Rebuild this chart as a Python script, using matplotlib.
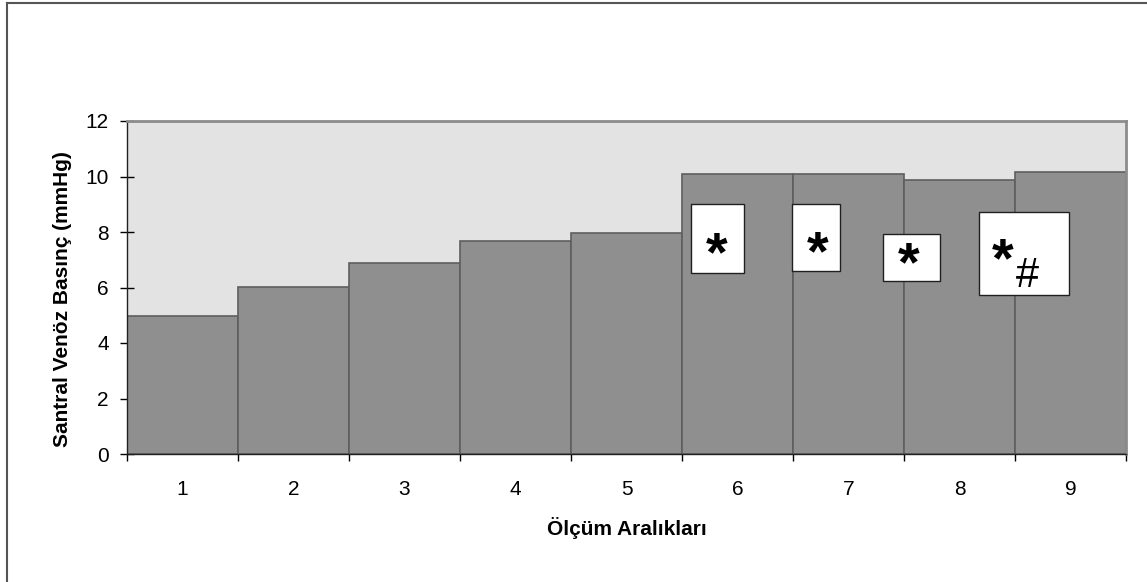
import matplotlib
matplotlib.use('Agg')
import matplotlib.pyplot as plt
from matplotlib.patches import Rectangle
from matplotlib.lines import Line2D
import numpy as np

plt.rcParams['font.family'] = ['Liberation Sans', 'DejaVu Sans']

# ── Data ──
categories = ['1', '2', '3', '4', '5', '6', '7', '8', '9']
cvp_values = [4.97, 6.03, 6.89, 7.66, 7.95, 10.08, 10.08, 9.86, 10.15]
y_ticks = [0, 2, 4, 6, 8, 10, 12]

# significance boxes: (x0, x1, y0, y1) in data coords, star position
marks = [
    (5.58, 6.06, 6.52, 9.01, (5.81, 7.14)),
    (6.49, 6.92, 6.59, 9.01, (6.72, 7.17)),
    (7.31, 7.82, 6.23, 7.93, (7.54, 6.78)),
    (8.18, 8.99, 5.73, 8.72, (8.39, 6.92)),
]

fig = plt.figure(figsize=(11.47, 5.82), dpi=100)
ax = fig.add_axes([127 / 1147, 128 / 582, 999 / 1147, 333 / 582])

x = np.arange(1, len(categories) + 1)
ax.bar(x, cvp_values, width=1.0, color='#8f8f8f', edgecolor='#5e5e5e',
       linewidth=1.2, zorder=2)

ax.set_facecolor('#e3e3e3')
ax.set_xlim(0.5, 9.5)
ax.set_ylim(0, 12)

ax.set_yticks(y_ticks)
ax.set_yticklabels([str(t) for t in y_ticks], fontsize=15)
ax.tick_params(axis='y', direction='inout', length=10, width=1, pad=8)

ax.set_xticks(x)
ax.set_xticklabels(categories, fontsize=15)
ax.tick_params(axis='x', which='major', length=0, pad=19)
ax.set_xticks(np.arange(0.5, 9.6, 1.0), minor=True)
ax.tick_params(axis='x', which='minor', direction='out', length=5, width=1)

for s in ['top', 'right']:
    ax.spines[s].set_color('#8c8c8c')
    ax.spines[s].set_linewidth(2)
for s in ['left', 'bottom']:
    ax.spines[s].set_color('#202020')
    ax.spines[s].set_linewidth(1)

ax.set_ylabel('Santral Venöz Basınç (mmHg)', fontsize=15, fontweight='bold')
ax.yaxis.set_label_coords(-0.055, 0.465)
ax.set_xlabel('Ölçüm Aralıkları', fontsize=15, fontweight='bold', labelpad=13)

for x0, x1, y0, y1, (tx, ty) in marks:
    ax.add_patch(Rectangle((x0, y0), x1 - x0, y1 - y0, facecolor='white',
                           edgecolor='#202020', linewidth=1, zorder=3))
    ax.text(tx, ty, '*', fontsize=40, fontweight='bold', ha='center',
            va='center', zorder=4)
ax.text(8.61, 6.42, '#', fontsize=30, ha='center', va='center', zorder=4)

# outer frame (left & top visible)
fig.add_artist(Line2D([7 / 1147, 7 / 1147], [0, 1 - 3 / 582],
                      transform=fig.transFigure, color='#555555', lw=1.5))
fig.add_artist(Line2D([7 / 1147, 1], [1 - 3 / 582, 1 - 3 / 582],
                      transform=fig.transFigure, color='#555555', lw=1.5))

fig.savefig('out.png', dpi=100)
